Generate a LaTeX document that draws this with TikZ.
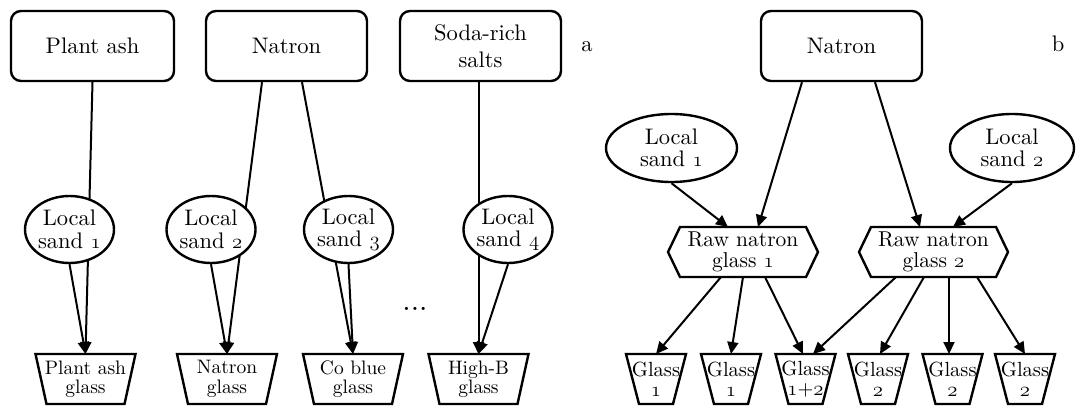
\documentclass[tikz,border=0pt]{standalone}
\usepackage{fontspec}
\setmainfont{lmroman10-regular}[Extension=.otf]
\usetikzlibrary{arrows.meta,shapes.geometric,backgrounds}
\newcommand\osn[1]{{\usefont{OML}{cmm}{m}{it}#1}}
\tikzset{
  shp/.style={line width=2.4pt, inner sep=0pt, align=center},
  srcbox/.style={shp, draw, fill=white, rounded corners=10pt, minimum width=161pt, minimum height=70pt, font=\fontsize{22.5}{27}\selectfont},
  sandell/.style={shp, draw, fill=white, ellipse, minimum width=89pt, minimum height=67pt, font=\fontsize{22.5}{22.5}\selectfont},
  trapbox/.style={shp, outer sep=0pt, minimum width=100pt, minimum height=50pt, font=\fontsize{19.5}{19.5}\selectfont},
  gbox/.style={shp, outer sep=0pt, minimum width=60pt, minimum height=50pt, font=\fontsize{20.5}{20}\selectfont},
  hexbox/.style={shp, outer sep=0pt, minimum width=150pt, minimum height=50pt, font=\fontsize{21.5}{21}\selectfont},
  lbl/.style={inner sep=0pt, font=\fontsize{22.5}{27}\selectfont},
  dotlbl/.style={inner sep=0pt, font=\fontsize{30}{30}\selectfont},
  shpline/.style={line width=2.4pt, line join=miter},
  conn/.style={line width=2pt, -{Triangle[length=12pt,width=11pt]}},
}
\begin{document}
\begin{tikzpicture}[x=1pt,y=-1pt]
\useasboundingbox (0,0) rectangle (1076,407);
% source boxes
\node[srcbox, minimum width=163pt] (pa) at (92.5,46) {Plant ash};
\node[srcbox] (na) at (286.5,46) {Natron};
\node[srcbox] (sr) at (480.5,46) {Soda-rich\\salts};
\node[srcbox] (nb) at (841.5,46) {Natron};
\node[lbl, anchor=base] (la) at (587,51) {a};
\node[lbl, anchor=base] (lb) at (1058,51) {b};
% sands
\node[sandell] (ls1) at (69.5,229.5) {Local\\sand \osn{1}};
\node[sandell] (ls2) at (211,229.5) {Local\\sand \osn{2}};
\node[sandell] (ls3) at (348.5,229.5) {Local\\sand \osn{3}};
\node[sandell] (ls4) at (508,229.5) {Local\\sand \osn{4}};
\node[sandell, minimum width=131pt, minimum height=68pt] (lb1) at (671.5,148) {Local\\sand \osn{1}};
\node[sandell, minimum width=124pt, minimum height=68pt] (lb2) at (1012,148) {Local\\sand \osn{2}};
% glasses (left)
\node[trapbox] (pg) at (85.5,379) {Plant ash\\glass};
\node[trapbox] (ng) at (227,379) {Natron\\glass};
\node[trapbox] (cg) at (353,379) {Co blue\\glass};
\node[trapbox] (hg) at (478.5,379) {High-B\\glass};
\node[dotlbl, anchor=base] (dots) at (415,310) {...};
% raw natron glasses
\node[hexbox] (rng1) at (743,252) {Raw natron\\glass \osn{1}};
\node[hexbox, minimum width=149pt] (rng2) at (933.5,252) {Raw natron\\glass \osn{2}};
% glasses (right)
\node[gbox] (g1a) at (656,379) {Glass\\\osn{1}};
\node[gbox] (g1b) at (731,379) {Glass\\\osn{1}};
\node[gbox] (g12) at (805.5,379) {Glass\\\osn{1}+\osn{2}};
\node[gbox] (g2a) at (878,379) {Glass\\\osn{2}};
\node[gbox] (g2b) at (952.5,379) {Glass\\\osn{2}};
\node[gbox] (g2c) at (1025,379) {Glass\\\osn{2}};
% outlines
\foreach \n in {pg,ng,cg,hg}
  \draw[shpline] (\n.north west) -- (\n.north east) -- ([xshift=-11pt]\n.south east) -- ([xshift=11pt]\n.south west) -- cycle;
\foreach \n in {g1a,g1b,g12,g2a,g2b,g2c}
  \draw[shpline] (\n.north west) -- (\n.north east) -- ([xshift=-13pt]\n.south east) -- ([xshift=13pt]\n.south west) -- cycle;
\foreach \n in {rng1,rng2}
  \draw[shpline] (\n.west) -- ([xshift=12pt]\n.north west) -- ([xshift=-12pt]\n.north east) -- (\n.east) -- ([xshift=-12pt]\n.south east) -- ([xshift=12pt]\n.south west) -- cycle;
% connectors
\begin{scope}[on background layer]
\draw[conn] (pa.south) -- (pg.north);
\draw[conn] (ls1.south) -- (pg.north);
\draw[conn] ([xshift=-24.5pt]na.south) -- (ng.north);
\draw[conn] (ls2.south) -- (ng.north);
\draw[conn] ([xshift=15.5pt]na.south) -- (cg.north);
\draw[conn] (ls3.south) -- (cg.north);
\draw[conn] (sr.south -| hg.north) -- (hg.north);
\draw[conn] (ls4.south) -- (hg.north);
\draw[conn] (lb1.south) -- ([xshift=-15pt]rng1.north);
\draw[conn] ([xshift=-39.5pt]nb.south) -- ([xshift=15pt]rng1.north);
\draw[conn] ([xshift=33.5pt]nb.south) -- ([xshift=-13.5pt]rng2.north);
\draw[conn] (lb2.south) -- ([xshift=19.5pt]rng2.north);
\draw[conn] ([xshift=-22pt]rng1.south) -- (g1a.north);
\draw[conn] (rng1.south) -- (g1b.north);
\draw[conn] ([xshift=22pt]rng1.south) -- ([xshift=-2.5pt]g12.north);
\draw[conn] ([xshift=-37.5pt]rng2.south) -- ([xshift=7.5pt]g12.north);
\draw[conn] ([xshift=-9.5pt]rng2.south) -- ([xshift=2pt]g2a.north);
\draw[conn] ([xshift=15.5pt]rng2.south) -- ([xshift=-3.5pt]g2b.north);
\draw[conn] ([xshift=43.5pt]rng2.south) -- (g2c.north);
\end{scope}
\end{tikzpicture}
\end{document}
